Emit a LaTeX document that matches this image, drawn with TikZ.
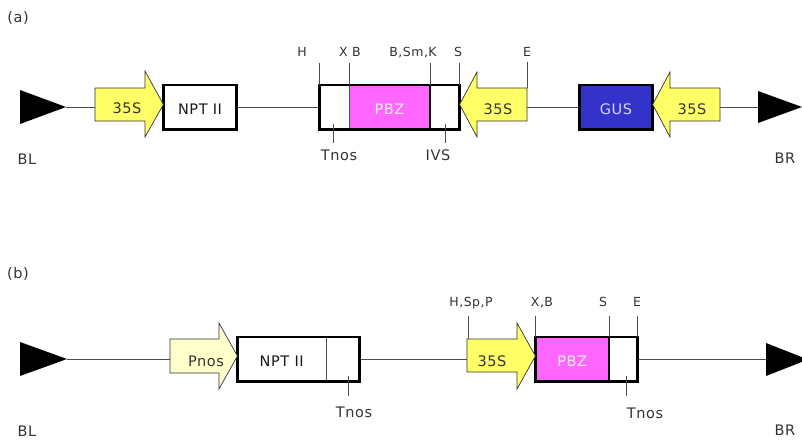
\documentclass[tikz,border=0pt]{standalone}
\usepackage{fontspec}
\setmainfont{DejaVu Sans}[LetterSpace=4]
\definecolor{promY}{HTML}{FFFF66}
\definecolor{pnosY}{HTML}{FFFFCC}
\definecolor{pbzM}{HTML}{FF66FF}
\definecolor{gusB}{HTML}{3333CC}
\definecolor{txt}{HTML}{333333}
\begin{document}
\begin{tikzpicture}[x=1pt,y=-1pt,
 bb/.style={draw=black!70, line width=0.9pt},
 box/.style={draw=black, line width=2.8pt},
 seg/.style={draw=black!70, line width=0.9pt, inner sep=0pt, outer sep=0pt, minimum height=44.2pt},
 solid box/.style={box, inner sep=0pt, outer sep=0pt, minimum height=44.2pt},
 prom/.style={draw=black!80, line width=0.7pt, fill=promY},
 tk/.style={draw=black!70, line width=0.9pt},
 intext/.style={font=\fontsize{14.5}{16}\selectfont, text height=14.6pt, text depth=0pt},
 lbl/.style={text=txt, font=\fontsize{14.5}{16}\selectfont, inner sep=0pt, text height=10.6pt, text depth=0pt},
 slbl/.style={text=txt, font=\fontsize{12.5}{14}\selectfont, inner sep=0pt, text height=9.1pt, text depth=0pt},
 tri/.style={fill=black}
]
\useasboundingbox (0,0) rectangle (802,439);
\clip (0,0) rectangle (802,439);

%================ (a) =================
\node[lbl] (labA) at (18,17) {(a)};
\coordinate (blA) at (66,107);
\coordinate (brA) at (758,107);
\coordinate (p1At) at (95,107);
\coordinate (p2At) at (527,107);
\coordinate (p3At) at (720,107);

% boxes
\node[solid box, fill=white, minimum width=73.2, intext, text=black!90] (nptA) at (200,107) {NPT II};
\node[seg, fill=white, minimum width=29.6] (tnA) at (334.2,107) {};
\node[seg, fill=pbzM, minimum width=81, intext, text=white!88!pbzM] (pbzA) at (389.5,107) {PBZ};
\node[seg, fill=white, minimum width=29.6] (ivsA) at (444.8,107) {};
\node[solid box, fill=gusB, minimum width=73.2, intext, text=white!80!gusB] (gusA) at (616,107) {GUS};

% backbone
\draw[bb] (blA) -- (p1At);
\draw[bb] (nptA.east) -- (tnA.west);
\draw[bb] (p2At) -- (gusA.west);
\draw[bb] (p3At) -- (brA);

% composite outline
\draw[box] (tnA.north west) rectangle (ivsA.south east);
\draw[line width=2.8pt] (pbzA.north east) -- (pbzA.south east);
\draw[box] (nptA.north west) rectangle (nptA.south east);
\draw[box] (gusA.north west) rectangle (gusA.south east);

% border triangles
\fill[tri] (20,90) -- (20,124) -- (blA) -- cycle;
\fill[tri] (brA |- 0,91) -- (brA |- 0,123) -- (802,107) -- cycle;

% promoters
\draw[prom] (95,88) -- (145,88) -- (145,71) -- (nptA.west |- 0,104.5) -- (145,137) -- (145,121) -- (95,121) -- cycle;
\draw[prom] (527,88) -- (477,88) -- (477,72) -- (ivsA.east |- 0,104.5) -- (477,137) -- (477,121) -- (527,121) -- cycle;
\draw[prom] (720,88) -- (670,88) -- (670,72) -- (gusA.east |- 0,104.5) -- (670,137) -- (670,121) -- (720,121) -- cycle;
\node[lbl] (p1A) at (127,108.5) {35S};
\node[lbl] (p2A) at (498,109) {35S};
\node[lbl] (p3A) at (692,109) {35S};

% ticks
\draw[tk] (tnA.north west) -- ++(0,-22);
\draw[tk] (pbzA.north west) -- ++(0,-22);
\draw[tk] (pbzA.north east) -- ++(0,-22);
\draw[tk] (ivsA.north east) -- ++(0,-22);
\draw[tk] (527,88) -- (527,62);
\draw[tk] (333,124) -- (333,143);
\draw[tk] (445,124) -- (445,143);

\node[slbl] (hA) at (302,52) {H};
\node[slbl] (xbA) at (350,52) {X B};
\node[slbl] (bsmkA) at (413,52) {B,Sm,K};
\node[slbl] (sA) at (458,52) {S};
\node[slbl] (eA) at (527,52) {E};
\node[lbl] (tnosA) at (339,155) {Tnos};
\node[lbl] (ivsLA) at (438,155) {IVS};
\node[lbl] (blLA) at (27,159) {BL};
\node[lbl] (brLA) at (785,158) {BR};

%================ (b) =================
\node[lbl] (labB) at (18,273) {(b)};
\coordinate (blB) at (67,359);
\coordinate (brB) at (766,359);
\coordinate (p1Bt) at (170,359);
\coordinate (p2Bt) at (467,359);

\node[seg, fill=white, minimum width=88.6, intext, text=black!90] (nptB) at (281.7,359) {NPT II};
\node[seg, fill=white, minimum width=33.6] (tnB) at (342.8,359) {};
\node[seg, fill=pbzM, minimum width=73.6, intext, text=white!88!pbzM] (pbzB) at (572.2,359) {PBZ};
\node[seg, fill=white, minimum width=28.6] (tnB2) at (623.3,359) {};

\draw[bb] (blB) -- (p1Bt);
\draw[bb] (tnB.east) -- (p2Bt);
\draw[bb] (tnB2.east) -- (brB);

\draw[box] (nptB.north west) rectangle (tnB.south east);
\draw[box] (pbzB.north west) rectangle (tnB2.south east);
\draw[line width=1.6pt] (pbzB.north east) -- (pbzB.south east);

\fill[tri] (20,342) -- (20,376) -- (blB) -- cycle;
\fill[tri] (brB |- 0,343) -- (brB |- 0,376) -- (808,359.5) -- cycle;

\draw[prom, fill=pnosY] (170,339) -- (219,339) -- (219,323) -- (nptB.west |- 0,356) -- (219,389) -- (219,373) -- (170,373) -- cycle;
\draw[prom] (467,339) -- (517,339) -- (517,323) -- (pbzB.west |- 0,356) -- (517,389) -- (517,372) -- (467,372) -- cycle;
\node[lbl] (p1B) at (206,361) {Pnos};
\node[lbl] (p2B) at (492,361) {35S};

\draw[tk] (468,339) -- (468,316);
\draw[tk] (pbzB.north west) -- ++(0,-21);
\draw[tk] (pbzB.north east) -- ++(0,-21);
\draw[tk] (tnB2.north east) -- ++(0,-21);
\draw[tk] (348,376) -- (348,396);
\draw[tk] (626,376) -- (626,396);

\node[slbl] (hspB) at (471,302) {H,Sp,P};
\node[slbl] (xbB) at (542,302) {X,B};
\node[slbl] (sB) at (603,302) {S};
\node[slbl] (eB) at (637,302) {E};
\node[lbl] (tnosB1) at (354,412) {Tnos};
\node[lbl] (tnosB2) at (645,413) {Tnos};
\node[lbl] (blLB) at (27,431) {BL};
\node[lbl] (brLB) at (785,430) {BR};
\end{tikzpicture}
\end{document}
